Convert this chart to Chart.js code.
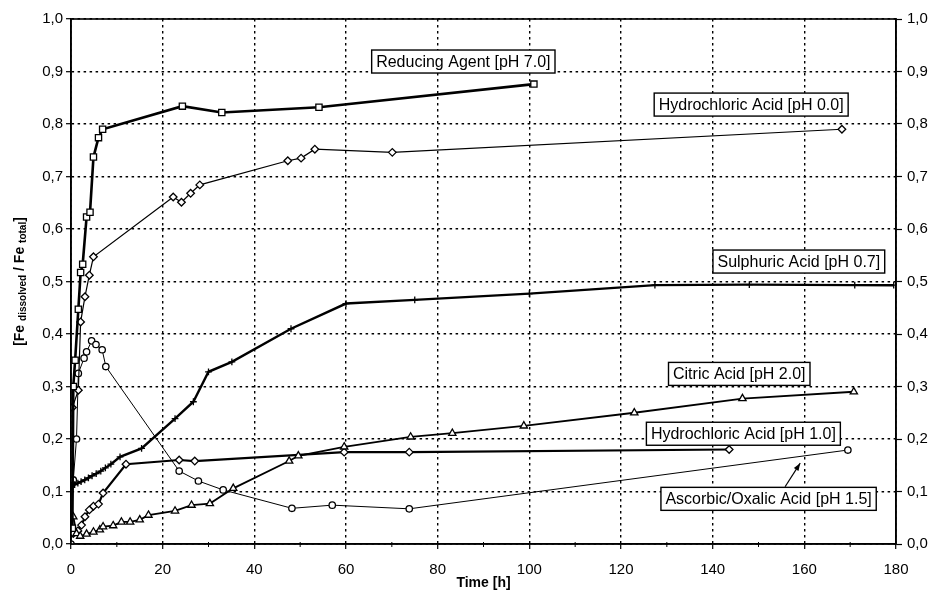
<!DOCTYPE html>
<html>
<head>
<meta charset="utf-8">
<script src="https://cdn.jsdelivr.net/npm/chart.js@4.4.0/dist/chart.umd.min.js"></script>
<style>
  html, body { margin: 0; padding: 0; background: #fff; }
</style>
</head>
<body>
<canvas id="grafico" width="935" height="592"></canvas>
<script>
// dados (tempo em h, fracao dissolvida)
const reducingT = [0.3, 0.5, 0.9, 1.6, 2.1, 2.55, 3.4, 4.15, 4.9, 6.0, 6.9, 24.3, 32.9, 54.1, 101];
const reducingY = [0.03, 0.30, 0.35, 0.447, 0.517, 0.533, 0.623, 0.632, 0.737, 0.774, 0.79, 0.834, 0.822, 0.832, 0.876];

const hcl00T = [0.3, 1.6, 2.1, 3.05, 4.0, 4.9, 22.3, 24.1, 26.1, 28.1, 47.3, 50.2, 53.2, 70.1, 168.2];
const hcl00Y = [0.26, 0.293, 0.423, 0.471, 0.512, 0.547, 0.661, 0.651, 0.668, 0.684, 0.73, 0.735, 0.752, 0.746, 0.79];

const sulphT = [0, 0.8, 1.5, 2.2, 3, 3.8, 4.6, 5.5, 6.5, 7.5, 8.7, 10.7, 15.4, 22.7, 26.7, 30, 35.1, 48, 60, 75, 100, 127.4, 148, 171, 179.5];
const sulphY = [0.109, 0.113, 0.116, 0.119, 0.122, 0.126, 0.13, 0.134, 0.139, 0.145, 0.152, 0.166, 0.182, 0.239, 0.271, 0.328, 0.347, 0.41, 0.458, 0.465, 0.477, 0.493, 0.494, 0.493, 0.493];

const citricT = [0.5, 1.2, 2.0, 3.4, 4.9, 6.3, 7.0, 9.2, 11, 12.9, 15, 16.9, 22.7, 26.3, 30.3, 35.4, 47.6, 49.6, 59.6, 74.1, 83.2, 98.8, 122.9, 146.5, 170.8];
const citricY = [0.052, 0.02, 0.015, 0.019, 0.023, 0.027, 0.033, 0.035, 0.042, 0.042, 0.046, 0.055, 0.063, 0.074, 0.077, 0.106, 0.158, 0.168, 0.185, 0.204, 0.211, 0.225, 0.25, 0.277, 0.29];

const hcl10T = [0.5, 1.5, 2.3, 3.05, 4.0, 4.9, 6.0, 7.0, 12, 23.6, 27, 59.6, 73.8, 143.6];
const hcl10Y = [0.02, 0.025, 0.036, 0.052, 0.065, 0.072, 0.076, 0.097, 0.152, 0.16, 0.158, 0.175, 0.175, 0.18];

const ascorbT = [0, 0.5, 1.2, 1.6, 2.85, 3.4, 4.5, 5.45, 6.8, 7.6, 23.6, 27.8, 33.2, 48.2, 57, 73.8, 169.5];
const ascorbY = [0, 0.122, 0.2, 0.325, 0.354, 0.366, 0.387, 0.38, 0.37, 0.338, 0.139, 0.12, 0.103, 0.068, 0.074, 0.067, 0.179];

const seriesNames = [
  'Reducing Agent [pH 7.0]',
  'Hydrochloric Acid [pH 0.0]',
  'Sulphuric Acid [pH 0.7]',
  'Citric Acid [pH 2.0]',
  'Hydrochloric Acid [pH 1.0]',
  'Ascorbic/Oxalic Acid [pH 1.5]'
];

const FONTE = '"Liberation Sans", Arial, sans-serif';

// onde ficam as caixas de texto (em unidades do grafico)
const caixas = [
  { texto: seriesNames[0], x: 85.6, y: 0.919 },
  { texto: seriesNames[1], x: 148.4, y: 0.837 },
  { texto: seriesNames[2], x: 158.8, y: 0.538 },
  { texto: seriesNames[3], x: 145.8, y: 0.324 },
  { texto: seriesNames[4], x: 146.7, y: 0.210 },
  { texto: seriesNames[5], x: 152.2, y: 0.086 }
];
const seta = { de: [155.8, 0.109], ate: [159.1, 0.154] };

const pontos = (ts, ys) => ts.map((t, i) => ({ x: t, y: ys[i] }));

function serie(label, ts, ys, estilo, largura, raio) {
  return {
    label: label,
    data: pontos(ts, ys),
    borderColor: '#000',
    borderWidth: largura,
    pointStyle: estilo,
    pointRadius: raio,
    pointBackgroundColor: '#fff',
    pointBorderColor: '#000',
    pointBorderWidth: 1.3,
    tension: 0,
    fill: false
  };
}

const anotacoes = {
  id: 'anotacoes',
  afterDraw(chart) {
    const { ctx, chartArea: a, scales: { x, y } } = chart;
    ctx.save();

    // moldura
    ctx.strokeStyle = '#000';
    ctx.lineWidth = 1.6;
    ctx.setLineDash([]);
    ctx.strokeRect(a.left, a.top, a.right - a.left, a.bottom - a.top);

    // ticks menores no eixo x
    ctx.lineWidth = 1;
    for (let v = 10; v < 180; v += 20) {
      const px = x.getPixelForValue(v);
      ctx.beginPath();
      ctx.moveTo(px, a.bottom - 2);
      ctx.lineTo(px, a.bottom + 3);
      ctx.stroke();
    }

    // caixas com nomes
    ctx.font = '16px ' + FONTE;
    ctx.textAlign = 'center';
    ctx.textBaseline = 'middle';
    ctx.lineWidth = 1.4;
    caixas.forEach(c => {
      const cx = x.getPixelForValue(c.x);
      const cy = y.getPixelForValue(c.y);
      const w = ctx.measureText(c.texto).width + 9;
      const h = 23;
      ctx.fillStyle = '#fff';
      ctx.fillRect(cx - w / 2, cy - h / 2, w, h);
      ctx.strokeRect(cx - w / 2, cy - h / 2, w, h);
      ctx.fillStyle = '#000';
      ctx.fillText(c.texto, cx, cy + 1);
    });

    // seta
    const x1 = x.getPixelForValue(seta.de[0]), y1 = y.getPixelForValue(seta.de[1]);
    const x2 = x.getPixelForValue(seta.ate[0]), y2 = y.getPixelForValue(seta.ate[1]);
    const ang = Math.atan2(y2 - y1, x2 - x1);
    ctx.lineWidth = 1.2;
    ctx.beginPath();
    ctx.moveTo(x1, y1);
    ctx.lineTo(x2, y2);
    ctx.stroke();
    ctx.beginPath();
    ctx.moveTo(x2, y2);
    ctx.lineTo(x2 - 8 * Math.cos(ang - 0.35), y2 - 8 * Math.sin(ang - 0.35));
    ctx.lineTo(x2 - 8 * Math.cos(ang + 0.35), y2 - 8 * Math.sin(ang + 0.35));
    ctx.closePath();
    ctx.fillStyle = '#000';
    ctx.fill();

    // titulo do eixo y com subscritos
    const partes = [
      { t: '[Fe ', f: 'bold 14px ' + FONTE, dy: 0 },
      { t: 'dissolved', f: 'bold 10px ' + FONTE, dy: 3 },
      { t: ' / Fe ', f: 'bold 14px ' + FONTE, dy: 0 },
      { t: 'total', f: 'bold 10px ' + FONTE, dy: 3 },
      { t: ']', f: 'bold 14px ' + FONTE, dy: 0 }
    ];
    let total = 0;
    partes.forEach(p => { ctx.font = p.f; p.w = ctx.measureText(p.t).width; total += p.w; });
    ctx.translate(20, (a.top + a.bottom) / 2);
    ctx.rotate(-Math.PI / 2);
    ctx.textAlign = 'left';
    let pos = -total / 2;
    partes.forEach(p => {
      ctx.font = p.f;
      ctx.fillText(p.t, pos, p.dy);
      pos += p.w;
    });

    ctx.restore();
  }
};

const rotulo = v => v.toFixed(1).replace('.', ',');

const grade = {
  color: '#000',
  lineWidth: 1.4,
  tickLength: 5,
  tickColor: '#000',
  tickWidth: 1.2,
  tickBorderDash: []
};

new Chart(document.getElementById('grafico').getContext('2d'), {
  type: 'line',
  data: {
    datasets: [
      serie(seriesNames[0], reducingT, reducingY, 'rect', 2.6, 4.4),
      serie(seriesNames[1], hcl00T, hcl00Y, 'rectRot', 1.2, 3.8),
      serie(seriesNames[2], sulphT, sulphY, 'cross', 2.4, 3.4),
      serie(seriesNames[3], citricT, citricY, 'triangle', 1.8, 4.2),
      serie(seriesNames[4], hcl10T, hcl10Y, 'rectRot', 2.2, 3.8),
      serie(seriesNames[5], ascorbT, ascorbY, 'circle', 1, 3.2)
    ]
  },
  options: {
    responsive: false,
    animation: false,
    layout: { padding: { top: 19, bottom: 0, left: 0, right: 0 } },
    plugins: { legend: { display: false }, tooltip: { enabled: false } },
    scales: {
      x: {
        type: 'linear', min: 0, max: 180,
        ticks: { stepSize: 20, color: '#000', font: { size: 15, family: FONTE }, padding: 12, maxRotation: 0, autoSkip: false },
        grid: grade,
        border: { display: true, color: '#000', width: 1.6, dash: [2.5, 3.5] },
        title: { display: true, text: 'Time [h]', color: '#000', font: { size: 14, weight: 'bold', family: FONTE }, padding: { top: 0, bottom: 0 } },
        afterFit: s => { s.height = 48; }
      },
      y: {
        position: 'left', min: 0, max: 1,
        ticks: { stepSize: 0.1, callback: rotulo, color: '#000', font: { size: 15, family: FONTE }, padding: 3 },
        grid: grade,
        border: { display: true, color: '#000', width: 1.6, dash: [2.5, 3.5] },
        afterFit: s => { s.width = 71; }
      },
      y2: {
        position: 'right', min: 0, max: 1,
        ticks: { stepSize: 0.1, callback: rotulo, color: '#000', font: { size: 15, family: FONTE }, padding: 5 },
        grid: { drawOnChartArea: false, color: '#000', tickLength: 6, tickColor: '#000', tickWidth: 1.2 },
        border: { display: true, color: '#000', width: 1.6 },
        afterFit: s => { s.width = 39; }
      }
    }
  },
  plugins: [anotacoes]
});
</script>
</body>
</html>
